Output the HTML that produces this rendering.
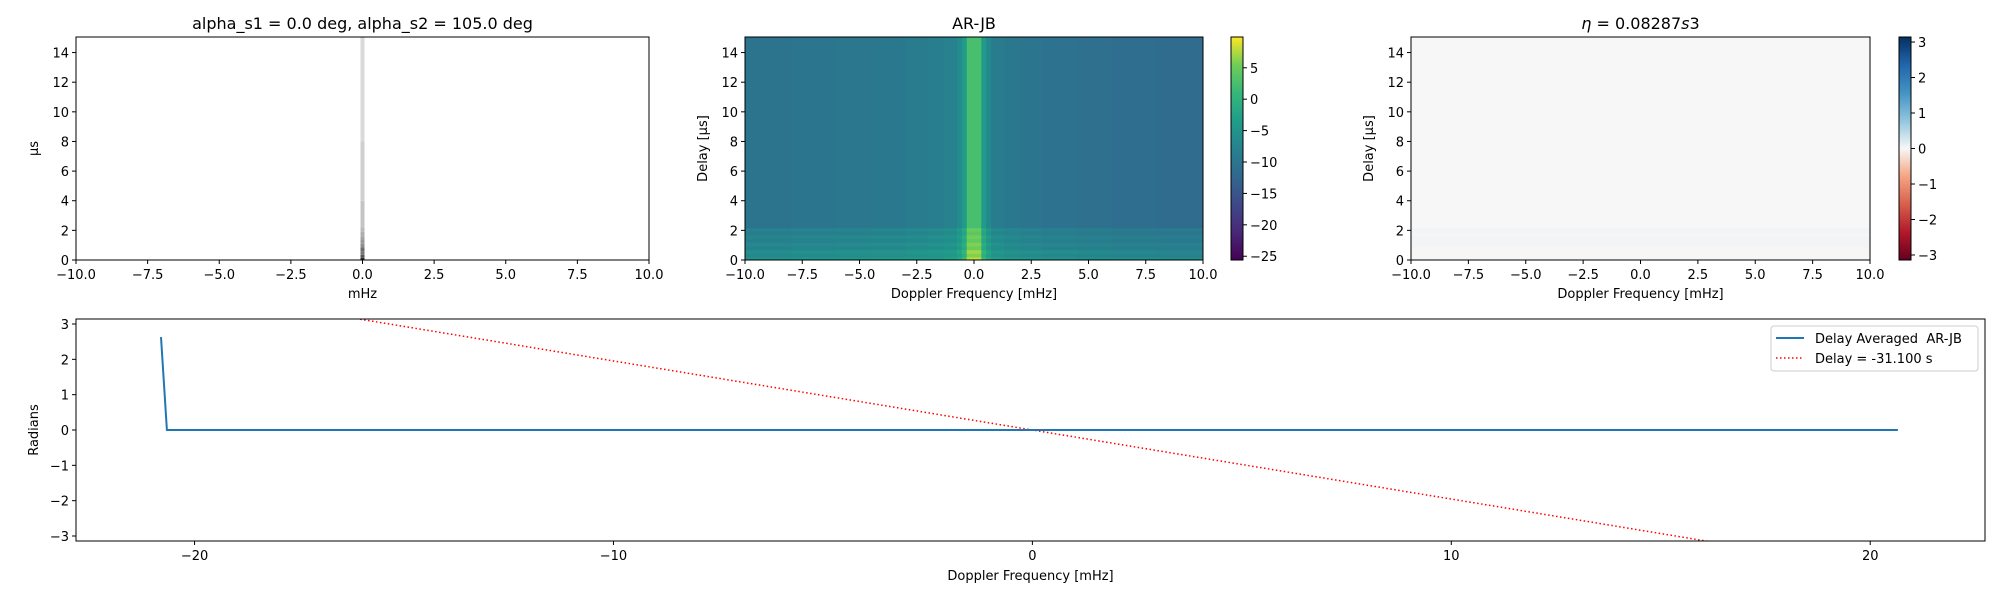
<!DOCTYPE html>
<html><head><meta charset="utf-8"><style>
html,body{margin:0;padding:0;background:#fff;}
svg{display:block;font-family:"DejaVu Sans","Liberation Sans",sans-serif;}
</style></head><body>
<svg id="fig" width="2000" height="600" viewBox="0 0 2000 600" xmlns="http://www.w3.org/2000/svg">
<defs>
<linearGradient id="viridisGrad" x1="0" y1="1" x2="0" y2="0">
<stop offset="0" stop-color="#440154"/><stop offset="0.125" stop-color="#482878"/><stop offset="0.25" stop-color="#3e4989"/><stop offset="0.375" stop-color="#31688e"/><stop offset="0.5" stop-color="#26828e"/><stop offset="0.625" stop-color="#1f9e89"/><stop offset="0.75" stop-color="#35b779"/><stop offset="0.875" stop-color="#6ece58"/><stop offset="1" stop-color="#fde725"/>
</linearGradient>
<linearGradient id="rdbuGrad" x1="0" y1="1" x2="0" y2="0">
<stop offset="0" stop-color="#67001f"/><stop offset="0.125" stop-color="#b2182b"/><stop offset="0.25" stop-color="#d6604d"/><stop offset="0.375" stop-color="#f4a582"/><stop offset="0.5" stop-color="#f7f7f7"/><stop offset="0.625" stop-color="#92c5de"/><stop offset="0.75" stop-color="#4393c3"/><stop offset="0.875" stop-color="#2166ac"/><stop offset="1" stop-color="#053061"/>
</linearGradient>
<clipPath id="clipBottom"><rect x="76" y="319" width="1909" height="222"/></clipPath>
</defs>
<g id="root"></g>
</svg>
<script>
// ---- data ----
const heatTicksX = [-10, -7.5, -5, -2.5, 0, 2.5, 5, 7.5, 10];
const heatTickLabels = ["\u221210.0","\u22127.5","\u22125.0","\u22122.5","0.0","2.5","5.0","7.5","10.0"];
const delayTicks = [0, 2, 4, 6, 8, 10, 12, 14];
// AR-JB panel: separable column (doppler) and row (delay) values
const arColEdges = [-10, -8, -6, -4.5, -3, -2, -1.3, -0.75, -0.53, -0.32, 0.32, 0.53, 0.75, 1.3, 2, 3, 4.5, 6, 8, 10];
const arColVals  = [-10.4, -10.1, -9.8, -9.5, -9.1, -8.7, -8.1, -6.5, -4.0, 2.5, -4.0, -6.8, -8.8, -9.6, -10.1, -10.5, -10.9, -11.3, -11.6];
const arRowEdges = [0, 0.2, 0.45, 0.7, 0.95, 1.2, 1.45, 1.7, 1.95, 2.18, 15.05];
const arRowVals  = [5.5, 3.5, 4.5, 2.5, 3.5, 2.0, 3.0, 1.5, 2.5, 0];
// Panel 1 (grayscale stripe at 0 mHz)
const p1RowEdges = [0, 0.15, 0.35, 0.6, 0.85, 1.1, 1.35, 1.6, 1.9, 2.2, 4, 8, 15.05];
const p1RowVals  = [0.9, 0.7, 0.55, 0.6, 0.45, 0.4, 0.35, 0.3, 0.25, 0.2, 0.15, 0.1];
// Panel 3 phase values per delay row
const phRowEdges = [0, 0.9, 1.65, 1.8, 2.18, 15.05];
const phRowVals  = [-0.012, 0.04, 0.0, 0.035, 0.0];
// Bottom panel
const blueX = [-20.8, -20.66, 20.66];
const blueY = [2.63, 0, 0];
const redDelay = -31.1; // seconds
const bottomXTicks = [-20, -10, 0, 10, 20];
const bottomXLabels = ["\u221220","\u221210","0","10","20"];
const radTicks = [-3, -2, -1, 0, 1, 2, 3];
const radLabels = ["\u22123","\u22122","\u22121","0","1","2","3"];
const cb2Ticks = [-25, -20, -15, -10, -5, 0, 5];
const cb3Ticks = [-3, -2, -1, 0, 1, 2, 3];

const NS = "http://www.w3.org/2000/svg";
const root = document.getElementById('root');
function mk(tag, attrs, parent) {
  const e = document.createElementNS(NS, tag);
  for (const k in attrs) e.setAttribute(k, attrs[k]);
  (parent || root).appendChild(e);
  return e;
}
function txt(x, y, s, size, anchor, parent, extra) {
  const t = mk('text', Object.assign({x: x, y: y, 'font-size': size, 'text-anchor': anchor || 'middle', fill: '#000'}, extra || {}), parent);
  t.textContent = s;
  return t;
}
function lin(d0, d1, r0, r1) { return v => r0 + (v - d0) * (r1 - r0) / (d1 - d0); }

const viridisStops = [[68,1,84],[72,40,120],[62,73,137],[49,104,142],[38,130,142],[31,158,137],[53,183,121],[110,206,88],[253,231,37]];
const rdbuStops = [[103,0,31],[178,24,43],[214,96,77],[244,165,130],[247,247,247],[146,197,222],[67,147,195],[33,102,172],[5,48,97]];
function cmap(stops, t) {
  t = Math.max(0, Math.min(1, t));
  const p = t * (stops.length - 1), i = Math.min(Math.floor(p), stops.length - 2), f = p - i;
  const c = stops[i].map((v, k) => Math.round(v + (stops[i+1][k] - v) * f));
  return 'rgb(' + c.join(',') + ')';
}

const TOP = 37, BOT = 260;
function heatAxes(g, L, R, yLabel, xLabel, title) {
  const sx = lin(-10, 10, L, R), sy = lin(0, 15.05, BOT, TOP);
  mk('rect', {x: L, y: TOP, width: R - L, height: BOT - TOP, fill: 'none', stroke: '#000', 'stroke-width': 1}, g);
  heatTicksX.forEach((v, i) => {
    const tk = mk('line', {x1: sx(v), y1: BOT, x2: sx(v), y2: BOT + 4, stroke: '#000'}, g);
    
    
    txt(sx(v), BOT + 19, heatTickLabels[i], 13, 'middle', g);
  });
  delayTicks.forEach(v => {
    mk('line', {x1: L - 4, y1: sy(v), x2: L, y2: sy(v), stroke: '#000'}, g);
    txt(L - 7, sy(v) + 5, String(v), 13, 'end', g);
  });
  const yl = txt(L - 38, (TOP + BOT) / 2, yLabel, 13, 'middle', g, {transform: 'rotate(-90 ' + (L - 38) + ' ' + (TOP + BOT) / 2 + ')'});
  
  
  const xl = txt((L + R) / 2, 298, xLabel, 13, 'middle', g);
  
  
  const tt = txt((L + R) / 2, 29, title, 16, 'middle', g);
  
  
  return {sx, sy};
}

// ---- Panel 1 ----
const g1 = mk('g', {});


(function(){
  const sx = lin(-10, 10, 76, 649), sy = lin(0, 15.05, BOT, TOP);
  for (let j = 0; j < p1RowVals.length; j++) {
    const c = Math.round(240 - p1RowVals[j] * 220);
    const r = mk('rect', {x: sx(-0.07), y: sy(p1RowEdges[j+1]), width: sx(0.07) - sx(-0.07), height: sy(p1RowEdges[j]) - sy(p1RowEdges[j+1]), fill: 'rgb(' + c + ',' + c + ',' + c + ')'}, g1);
    
    
  }
  heatAxes(g1, 76, 649, '\u03bcs', 'mHz', 'alpha_s1 = 0.0 deg, alpha_s2 = 105.0 deg');
})();

// ---- Panel 2 ----
const g2 = mk('g', {});


(function(){
  const L = 745, R = 1203;
  const sx = lin(-10, 10, L, R), sy = lin(0, 15.05, BOT, TOP);
  const vmin = -25.6, vmax = 9.9;
  for (let i = 0; i < arColVals.length; i++) {
    for (let j = 0; j < arRowVals.length; j++) {
      let v = arColVals[i] + arRowVals[j];
      const c = mk('rect', {x: sx(arColEdges[i]), y: sy(arRowEdges[j+1]), width: sx(arColEdges[i+1]) - sx(arColEdges[i]) + 0.5, height: sy(arRowEdges[j]) - sy(arRowEdges[j+1]) + 0.5, fill: cmap(viridisStops, (v - vmin) / (vmax - vmin))}, g2);
      
      
    }
  }
  heatAxes(g2, L, R, 'Delay [\u03bcs]', 'Doppler Frequency [mHz]', 'AR-JB');
  const cy = lin(vmin, vmax, BOT, TOP);
  const cb = mk('rect', {x: 1231, y: TOP, width: 12, height: BOT - TOP, fill: 'url(#viridisGrad)', stroke: '#000', 'stroke-width': 1}, g2);
  
  
  cb2Ticks.forEach(v => {
    mk('line', {x1: 1243, y1: cy(v), x2: 1247, y2: cy(v), stroke: '#000'}, g2);
    txt(1250, cy(v) + 5, v < 0 ? '\u2212' + (-v) : String(v), 13, 'start', g2);
  });
})();

// ---- Panel 3 ----
const g3 = mk('g', {});


(function(){
  const L = 1411, R = 1870;
  const sx = lin(-10, 10, L, R), sy = lin(0, 15.05, BOT, TOP);
  const vmin = -Math.PI, vmax = Math.PI;
  for (let j = 0; j < phRowVals.length; j++) {
    const c = mk('rect', {x: L, y: sy(phRowEdges[j+1]), width: R - L, height: sy(phRowEdges[j]) - sy(phRowEdges[j+1]) + 0.3, fill: cmap(rdbuStops, (phRowVals[j] - vmin) / (vmax - vmin))}, g3);
    
    
  }
  heatAxes(g3, L, R, 'Delay [\u03bcs]', 'Doppler Frequency [mHz]', '');
  const t = txt((L + R) / 2, 29, '', 16, 'middle', g3);
  t.innerHTML = '<tspan font-style="italic">\u03b7</tspan> = 0.08287<tspan font-style="italic">s</tspan>3';
  
  
  const cy = lin(vmin, vmax, BOT, TOP);
  const cb = mk('rect', {x: 1899, y: TOP, width: 12, height: BOT - TOP, fill: 'url(#rdbuGrad)', stroke: '#000', 'stroke-width': 1}, g3);
  
  
  cb3Ticks.forEach(v => {
    mk('line', {x1: 1911, y1: cy(v), x2: 1915, y2: cy(v), stroke: '#000'}, g3);
    txt(1918, cy(v) + 5, v < 0 ? '\u2212' + (-v) : String(v), 13, 'start', g3);
  });
})();

// ---- Bottom panel ----
const g4 = mk('g', {});


(function(){
  const L = 76, R = 1985, T = 319, B = 541;
  const sx = lin(-22.83, 22.74, L, R), sy = lin(-Math.PI, Math.PI, B, T);
  const gc = mk('g', {'clip-path': 'url(#clipBottom)'}, g4);
  const slope = 2 * Math.PI * redDelay * 1e-3;
  const xs = [-22.83, 22.74];
  const red = mk('line', {x1: sx(xs[0]), y1: sy(slope * xs[0]), x2: sx(xs[1]), y2: sy(slope * xs[1]), stroke: '#ff0000', 'stroke-width': 1.5, 'stroke-dasharray': '1.5,2.5'}, gc);
  
  
  const pts = blueX.map((x, i) => sx(x).toFixed(1) + ',' + sy(blueY[i]).toFixed(1)).join(' ');
  const bl = mk('polyline', {points: pts, fill: 'none', stroke: '#1f77b4', 'stroke-width': 2}, gc);
  
  
  mk('rect', {x: L, y: T, width: R - L, height: B - T, fill: 'none', stroke: '#000'}, g4);
  bottomXTicks.forEach((v, i) => {
    mk('line', {x1: sx(v), y1: B, x2: sx(v), y2: B + 4, stroke: '#000'}, g4);
    txt(sx(v), B + 19, bottomXLabels[i], 13, 'middle', g4);
  });
  radTicks.forEach((v, i) => {
    mk('line', {x1: L - 4, y1: sy(v), x2: L, y2: sy(v), stroke: '#000'}, g4);
    txt(L - 7, sy(v) + 5, radLabels[i], 13, 'end', g4);
  });
  const yl = txt(38, (T + B) / 2, 'Radians', 13, 'middle', g4, {transform: 'rotate(-90 38 ' + (T + B) / 2 + ')'});
  
  
  const xl = txt((L + R) / 2, 580, 'Doppler Frequency [mHz]', 13, 'middle', g4);
  
  
  const lg = mk('g', {}, g4);
  
  
  mk('rect', {x: 1771, y: 326, width: 207, height: 45, rx: 3, fill: '#fff', 'fill-opacity': 0.8, stroke: '#ccc'}, lg);
  mk('line', {x1: 1776, y1: 338, x2: 1804, y2: 338, stroke: '#1f77b4', 'stroke-width': 2}, lg);
  txt(1815, 343, 'Delay Averaged\u00a0\u00a0AR-JB', 13, 'start', lg);
  mk('line', {x1: 1776, y1: 358, x2: 1804, y2: 358, stroke: '#ff0000', 'stroke-width': 1.5, 'stroke-dasharray': '1.5,2.5'}, lg);
  txt(1815, 363, 'Delay = -31.100 s', 13, 'start', lg);
})();
</script>
</body></html>
